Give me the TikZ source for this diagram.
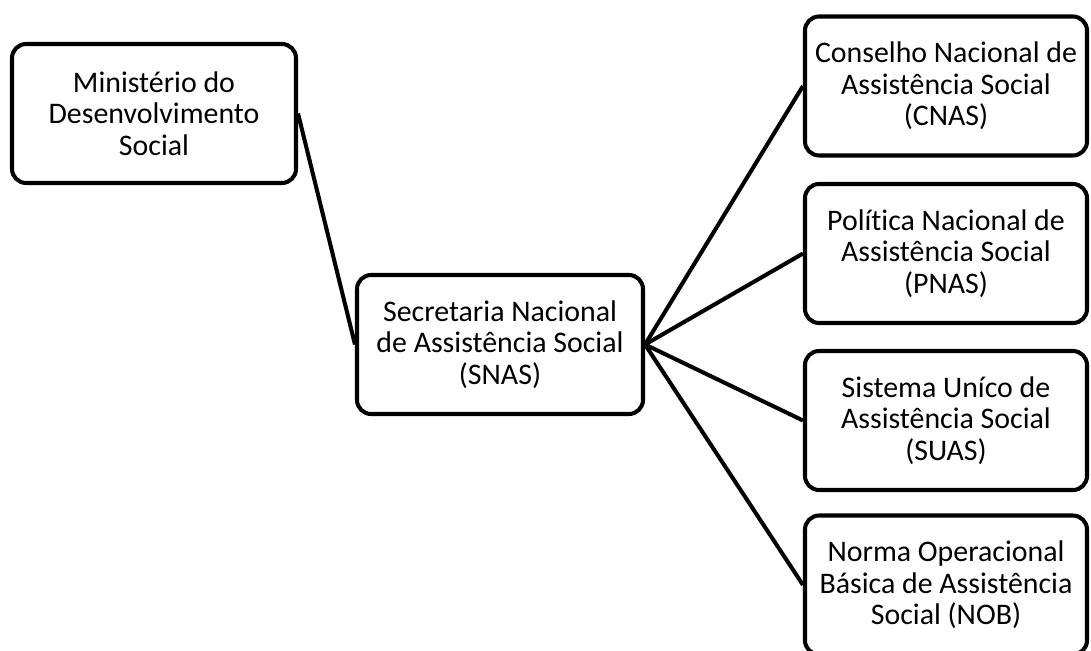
\documentclass[tikz,border=0pt]{standalone}
\usepackage{fontspec}
\setmainfont{Carlito}[Ligatures=NoCommon]
\usetikzlibrary{positioning}

\begin{document}
\begin{tikzpicture}[
  font=\fontsize{17}{18}\selectfont,
  box/.style={draw=black, line width=2.3pt, rounded corners=8pt, align=center, fill=white,
    inner sep=2pt, minimum height=2.78cm},
  leftbox/.style={box, minimum width=5.68cm},
  rightbox/.style={box, minimum width=5.64cm},
  link/.style={line width=2.3pt, draw=black},
]
\clip (0,0) rectangle (21.82,-13.02);
% ministry and secretariat
\node[leftbox] (mds)  at (3.08, -2.27) {Ministério do\\Desenvolvimento\\Social};
\node[leftbox, minimum width=5.72cm] (snas) at (10.0, -6.89) {Secretaria Nacional\\de Assistência Social\\(SNAS)};

% right column
\node[rightbox] (cnas) at (18.92, -1.72)  {Conselho Nacional de\\Assistência Social\\(CNAS)};
\node[rightbox] (pnas) at (18.92, -5.07)  {Política Nacional de\\Assistência Social\\(PNAS)};
\node[rightbox] (suas) at (18.92, -8.41)  {Sistema Uníco de\\Assistência Social\\(SUAS)};
\node[rightbox] (nob)  at (18.92, -11.70) {Norma Operacional\\Básica de Assistência\\Social (NOB)};

\draw[link] (mds.east) -- (snas.west);
\foreach \v in {cnas, pnas, suas, nob} \draw[link] (snas.east) -- (\v.west);
\end{tikzpicture}
\end{document}
